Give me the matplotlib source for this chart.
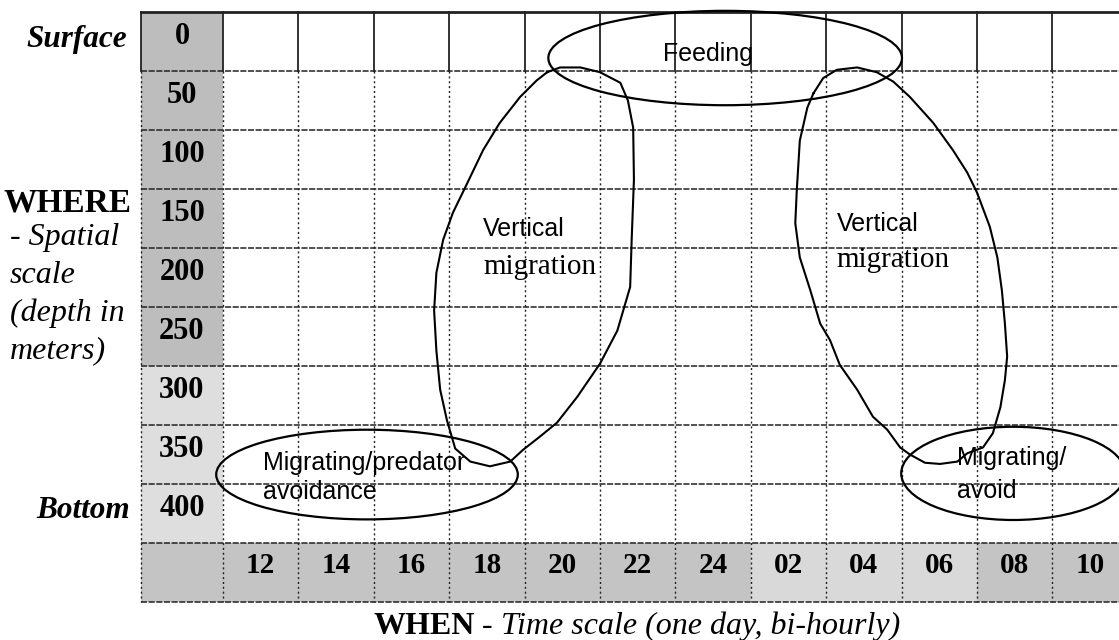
import matplotlib.pyplot as plt
from matplotlib.patches import Ellipse, Rectangle

# row labels (depth in m) and column labels (hour of day)
depths = [0, 50, 100, 150, 200, 250, 300, 350, 400]
hours = ["12", "14", "16", "18", "20", "22", "24", "02", "04", "06", "08", "10"]

# hand drawn loops, in (column, depth) units
left_loop_x = [4.30, 4.47, 4.74, 5.00, 5.27, 5.37, 5.44, 5.45, 5.42, 5.40, 5.23, 5.00,
               4.70, 4.43, 4.20, 3.98, 3.81, 3.54, 3.28, 3.08, 2.97, 2.88, 2.83, 2.80,
               2.83, 2.92, 3.05, 3.24, 3.45, 3.67, 3.94, 4.16]
left_loop_y = [51, 47, 47, 51, 60, 75, 98, 142, 193, 233, 270, 298,
               326, 348, 360, 371, 381, 385, 381, 370, 346, 320, 287, 253,
               221, 193, 170, 145, 117, 94, 72, 58]
right_loop_x = [7.83, 7.96, 8.14, 8.41, 8.67, 8.89, 9.11, 9.42, 9.68, 9.87, 10.00, 10.17,
                10.27, 10.33, 10.37, 10.40, 10.37, 10.31, 10.21, 10.08, 9.87, 9.74, 9.51,
                9.31, 9.11, 8.98, 8.81, 8.62, 8.41, 8.18, 8.05, 7.92, 7.79, 7.65, 7.59,
                7.61, 7.65, 7.75]
right_loop_y = [69, 56, 49, 47, 51, 59, 72, 94, 117, 136, 153, 182,
                208, 236, 264, 292, 312, 335, 357, 369, 374, 381, 383,
                382, 375, 369, 354, 343, 320, 299, 278, 264, 236, 208, 179,
                151, 109, 81]

# ellipses: (x centre, depth centre, width in columns, height in m)
feeding = (6.66, 39, 4.69, 80)
bottom_left = (1.91, 392, 4.00, 76)
bottom_right = (10.48, 391, 2.97, 79)

serif = "Liberation Serif"
sans = "Liberation Sans"

fig = plt.figure(figsize=(11.19, 6.4), dpi=100)
W, H = 1119, 640
# data area: 12 columns from x=223px, 9 rows from y=12px, 75.4 x 59 px cells
ax = fig.add_axes([223 / W, (H - 543) / H, 12 * 75.4 / W, 9 * 59 / H])
ax.set_xlim(0, 12)
ax.set_ylim(450, 0)
ax.axis("off")

col_left = -82 / 75.4   # left edge of the label column
row_bot = 500           # bottom edge of the label row

# shaded label column and label row
for i, d in enumerate(depths):
    shade = "#bdbdbd" if i < 6 else "#dedede"
    ax.add_patch(Rectangle((col_left, d), -col_left, 50, facecolor=shade,
                           edgecolor="none", clip_on=False, zorder=0))
for j in range(-1, len(hours)):
    shade = "#d9d9d9" if 7 <= j <= 9 else "#c4c4c4"
    x0 = col_left if j < 0 else j
    w = -col_left if j < 0 else 1
    ax.add_patch(Rectangle((x0, 450), w, row_bot - 450, facecolor=shade,
                           edgecolor="none", clip_on=False, zorder=0))

# grid
gk = dict(color="#222222", clip_on=False, zorder=1)
ax.plot([col_left, 12], [0, 0], lw=2, **gk)
for i in range(1, len(depths) + 2):
    y = 50 * i
    ax.plot([col_left, 12], [y, y], lw=1.1, ls=(0, (4, 1)), **gk)
for j in range(0, len(hours) + 1):
    ax.plot([j, j], [0, 50], lw=1.3, **gk)
    ax.plot([j, j], [50, row_bot], lw=1.0, ls=(0, (1.5, 2)), **gk)
ax.plot([col_left, col_left], [0, 50], lw=1.3, **gk)
ax.plot([col_left, col_left], [50, row_bot], lw=1.0, ls=(0, (1.5, 2)), **gk)

# cell labels
for d in depths:
    ax.text(col_left / 2, d + 21, str(d), ha="center", va="center", fontsize=22,
            fontweight="bold", family=serif, clip_on=False)
for j, h in enumerate(hours):
    ax.text(j + 0.5, 450 + 19, h, ha="center", va="center", fontsize=21,
            fontweight="bold", family=serif, clip_on=False)

# ellipses and loops
for cx, cy, w, h in [feeding, bottom_left, bottom_right]:
    ax.add_patch(Ellipse((cx, cy), w, h, fill=False, lw=1.6, edgecolor="black",
                         clip_on=False, zorder=3))
for lx, ly in [(left_loop_x, left_loop_y), (right_loop_x, right_loop_y)]:
    ax.plot(lx + lx[:1], ly + ly[:1], color="black", lw=1.5, solid_joinstyle="round",
            clip_on=False, zorder=3)

# annotations inside the grid
ax.text(6.43, 36, "Feeding", ha="center", va="center", fontsize=18, family=sans, zorder=4)
ax.text(3.45, 184, "Vertical", ha="left", va="center", fontsize=18, family=sans, zorder=4)
ax.text(3.45, 216, "migration", ha="left", va="center", fontsize=21, family=serif, zorder=4)
ax.text(8.14, 180, "Vertical", ha="left", va="center", fontsize=18, family=sans, zorder=4)
ax.text(8.14, 210, "migration", ha="left", va="center", fontsize=21, family=serif, zorder=4)
ax.text(0.53, 382, "Migrating/predator", ha="left", va="center", fontsize=18, family=sans, zorder=4)
ax.text(0.53, 407, "avoidance", ha="left", va="center", fontsize=18, family=sans, zorder=4)
ax.text(9.74, 378, "Migrating/", ha="left", va="center", fontsize=18, family=sans, zorder=4)
ax.text(9.74, 406, "avoid", ha="left", va="center", fontsize=18, family=sans, zorder=4)


# side labels, in figure pixels
def fx(px):
    return px / W


def fy(py):
    return 1 - py / H


fig.text(fx(127), fy(40), "Surface", ha="right", va="center", fontsize=22.5,
         fontweight="bold", style="italic", family=serif)
fig.text(fx(132), fy(203), "WHERE", ha="right", va="center", fontsize=24,
         fontweight="bold", family=serif)
for k, line in enumerate(["- Spatial", "scale", "(depth in", "meters)"]):
    fig.text(fx(10), fy(238 + 37.5 * k), line, ha="left", va="center", fontsize=23,
             style="italic", family=serif)
fig.text(fx(130), fy(510), "Bottom", ha="right", va="center", fontsize=22.5,
         fontweight="bold", style="italic", family=serif)

# bottom title in three styles, chained one after another
t1 = fig.text(fx(373), fy(634), "WHEN", ha="left", va="baseline", fontsize=23,
              fontweight="bold", family=serif)
t2 = ax.annotate(" - ", xy=(1, 0), xycoords=t1, va="bottom", fontsize=23, family=serif,
                 annotation_clip=False)
ax.annotate("Time scale (one day, bi-hourly)", xy=(1, 0), xycoords=t2, va="bottom",
            fontsize=23, style="italic", family=serif, annotation_clip=False)

fig.savefig("out.png", dpi=100)
